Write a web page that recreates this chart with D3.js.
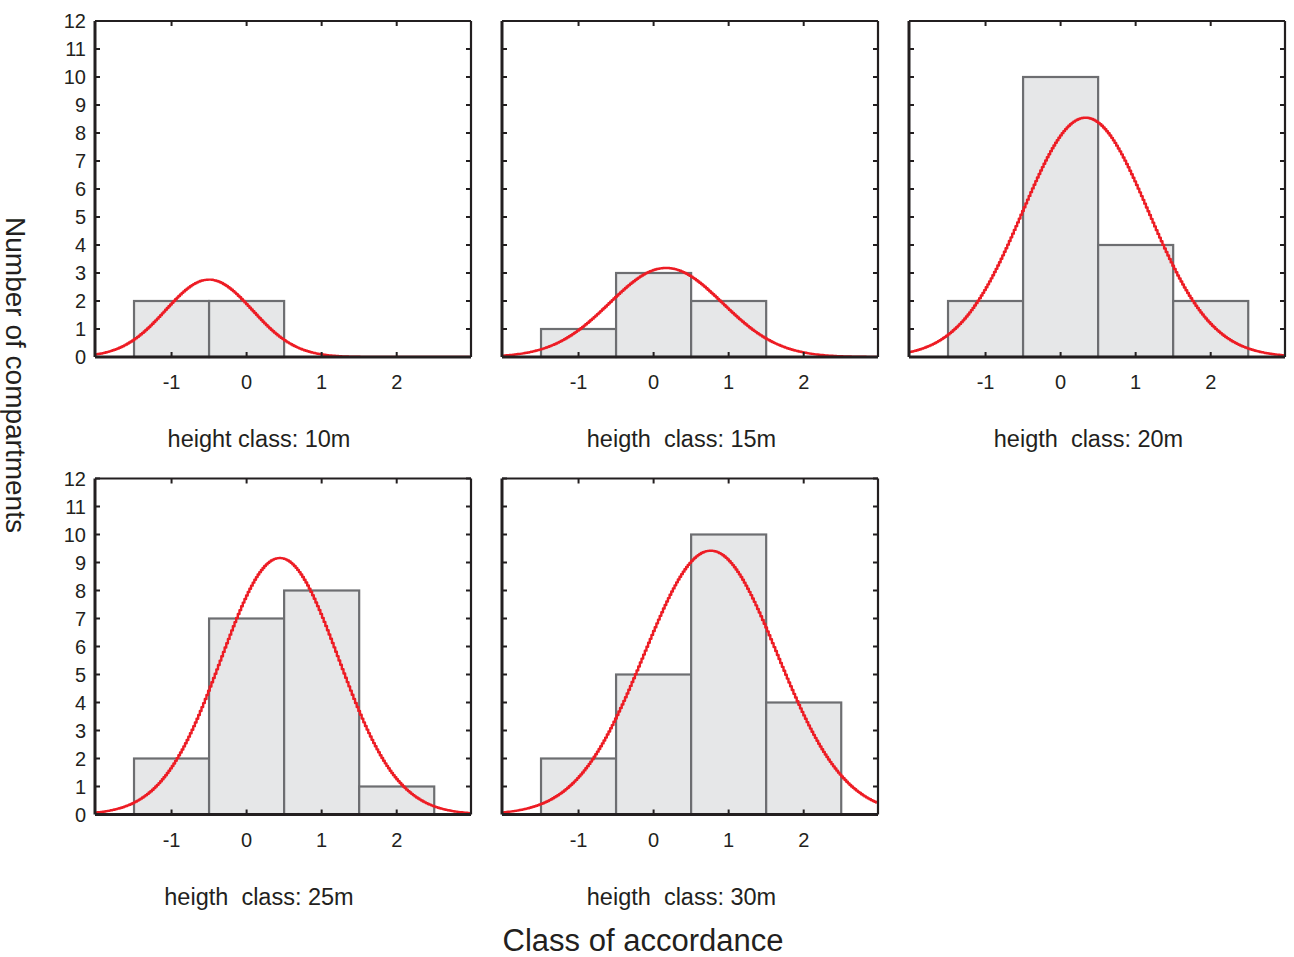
<!DOCTYPE html>
<html>
<head>
<meta charset="utf-8">
<script src="https://cdn.jsdelivr.net/npm/d3@7"></script>
<style>
  html, body { margin: 0; padding: 0; background: #fff; }
  svg { display: block; font-family: "Liberation Sans", Arial, Helvetica, sans-serif; }
  .caption { white-space: pre; }
</style>
</head>
<body>
<svg id="chart" width="1294" height="957"></svg>
<script>
// Accordance classes (bin centres) and axis ticks
const classes = [-1, 0, 1, 2];
const xTickValues = [-1, 0, 1, 2];
const yTickValues = [0, 1, 2, 3, 4, 5, 6, 7, 8, 9, 10, 11, 12];

// Number of compartments per accordance class, one array per height class
const counts10 = [2, 2, 0, 0];
const counts15 = [1, 3, 2, 0];
const counts20 = [2, 10, 4, 2];
const counts25 = [2, 7, 8, 1];
const counts30 = [2, 5, 10, 4];

const captions = [
  "height class: 10m",
  "heigth  class: 15m",
  "heigth  class: 20m",
  "heigth  class: 25m",
  "heigth  class: 30m"
];
const seriesList = [counts10, counts15, counts20, counts25, counts30];

// Layout
const panelW = 376, panelH = 336;
const colLeft = [95, 502, 909];
const rowTop = [21, 478.5];
const axisColor = "#231f20";
const barFill = "#e6e7e8";
const barStroke = "#6d6e71";
const curveColor = "#ed1c24";

const svg = d3.select("#chart");

const x = d3.scaleLinear().domain([-2.02, 2.99]).range([0, panelW]);
const y = d3.scaleLinear().domain([0, 12]).range([panelH, 0]);

// Normal density fitted to the class counts (mean, sample sd), scaled to counts
function normalFit(counts) {
  const n = d3.sum(counts);
  const mean = d3.sum(counts, (c, i) => c * classes[i]) / n;
  const ss = d3.sum(counts, (c, i) => c * (classes[i] - mean) ** 2);
  const sd = Math.sqrt(ss / (n - 1));
  const k = n * 1 / (sd * Math.sqrt(2 * Math.PI));
  return v => k * Math.exp(-0.5 * ((v - mean) / sd) ** 2);
}

seriesList.forEach((counts, p) => {
  const col = p % 3, row = Math.floor(p / 3);
  const g = svg.append("g")
    .attr("transform", `translate(${colLeft[col]},${rowTop[row]})`);

  const clipId = "clip" + p;
  g.append("clipPath").attr("id", clipId)
    .append("rect").attr("x", 0).attr("y", 0).attr("width", panelW).attr("height", panelH);

  // Histogram bars (unit-width classes)
  g.append("g").selectAll("rect")
    .data(classes.map((c, i) => ({ c, v: counts[i] })).filter(d => d.v > 0))
    .join("rect")
    .attr("x", d => x(d.c - 0.5))
    .attr("width", d => x(d.c + 0.5) - x(d.c - 0.5))
    .attr("y", d => y(d.v))
    .attr("height", d => y(0) - y(d.v))
    .attr("fill", barFill)
    .attr("stroke", barStroke)
    .attr("stroke-width", 2.2);

  // Fitted normal curve, drawn as a fine polyline with small steps
  const f = normalFit(counts);
  const dom = x.domain();
  const pts = d3.range(dom[0], dom[1] + 0.001, 0.022).map(v => [v, f(v)]);
  const line = d3.line()
    .x(d => x(d[0]))
    .y(d => y(d[1]))
    .curve(d3.curveStep);
  g.append("path")
    .attr("clip-path", `url(#${clipId})`)
    .attr("d", line(pts))
    .attr("fill", "none")
    .attr("stroke", curveColor)
    .attr("stroke-width", 2.4)
    .attr("stroke-linejoin", "round");

  // Frame: heavier left/bottom axes, lighter top/right
  g.append("line").attr("x1", 0).attr("x2", panelW).attr("y1", 0).attr("y2", 0)
    .attr("stroke", axisColor).attr("stroke-width", 2.2);
  g.append("line").attr("x1", panelW).attr("x2", panelW).attr("y1", 0).attr("y2", panelH)
    .attr("stroke", axisColor).attr("stroke-width", 2.2);
  g.append("line").attr("x1", 0).attr("x2", panelW).attr("y1", panelH).attr("y2", panelH)
    .attr("stroke", axisColor).attr("stroke-width", 3);
  g.append("line").attr("x1", 0).attr("x2", 0).attr("y1", 0).attr("y2", panelH)
    .attr("stroke", axisColor).attr("stroke-width", 3);

  // Inward ticks on all four sides
  const tickLen = 5;
  g.append("g").selectAll("line.yl").data(yTickValues).join("line")
    .attr("x1", 0).attr("x2", tickLen).attr("y1", d => y(d)).attr("y2", d => y(d))
    .attr("stroke", axisColor).attr("stroke-width", 2);
  g.append("g").selectAll("line.yr").data(yTickValues).join("line")
    .attr("x1", panelW - tickLen).attr("x2", panelW).attr("y1", d => y(d)).attr("y2", d => y(d))
    .attr("stroke", axisColor).attr("stroke-width", 2);
  g.append("g").selectAll("line.xb").data(xTickValues).join("line")
    .attr("x1", d => x(d)).attr("x2", d => x(d)).attr("y1", panelH - tickLen).attr("y2", panelH)
    .attr("stroke", axisColor).attr("stroke-width", 2);
  g.append("g").selectAll("line.xt").data(xTickValues).join("line")
    .attr("x1", d => x(d)).attr("x2", d => x(d)).attr("y1", 0).attr("y2", tickLen)
    .attr("stroke", axisColor).attr("stroke-width", 2);

  // X tick labels
  g.append("g").selectAll("text").data(xTickValues).join("text")
    .attr("x", d => x(d))
    .attr("y", panelH + 32)
    .attr("text-anchor", "middle")
    .attr("font-size", 20)
    .attr("fill", "#231f20")
    .text(d => d);

  // Y tick labels only on the first column
  if (col === 0) {
    g.append("g").selectAll("text").data(yTickValues).join("text")
      .attr("x", -9)
      .attr("y", d => y(d))
      .attr("dy", "0.36em")
      .attr("text-anchor", "end")
      .attr("font-size", 20)
      .attr("fill", "#231f20")
      .text(d => d);
  }

  // Panel caption
  g.append("text")
    .attr("class", "caption")
    .attr("x", col === 0 ? 164 : 179.5)
    .attr("y", panelH + 90)
    .attr("text-anchor", "middle")
    .attr("font-size", 23.5)
    .attr("fill", "#231f20")
    .text(captions[p]);
});

// Shared axis titles
svg.append("text")
  .attr("x", 643)
  .attr("y", 951)
  .attr("text-anchor", "middle")
  .attr("font-size", 31)
  .attr("fill", "#231f20")
  .text("Class of accordance");

svg.append("text")
  .attr("transform", "translate(6,375) rotate(90)")
  .attr("text-anchor", "middle")
  .attr("font-size", 28)
  .attr("fill", "#231f20")
  .text("Number of compartments");
</script>
</body>
</html>
